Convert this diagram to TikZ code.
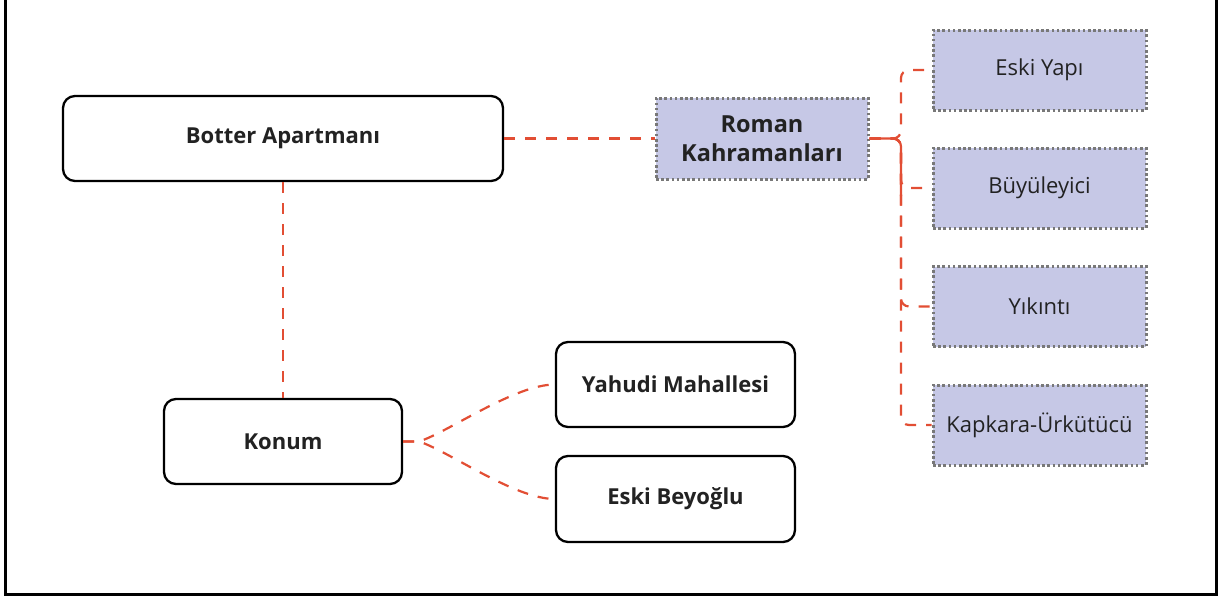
\documentclass[tikz,border=0pt]{standalone}
\usepackage{fontspec}
\setmainfont{Open Sans}
\definecolor{conred}{RGB}{226,78,52}
\definecolor{lav}{RGB}{198,200,230}
\definecolor{txt}{RGB}{34,34,34}
\definecolor{dotgray}{RGB}{120,120,120}
\tikzset{
  roundbox/.style={draw=black, line width=2.3pt, rounded corners=12pt, fill=white, align=center, text=txt, font=\fontsize{22}{30}\selectfont\bfseries, inner sep=0pt},
  lavbox/.style={draw=dotgray, line width=3pt, dash pattern=on 2.6pt off 2.6pt, fill=lav, align=center, text=txt, inner sep=0pt},
  con/.style={draw=conred, line width=2.2pt, dash pattern=on 11pt off 10pt},
  consolid/.style={draw=conred, line width=2.2pt},
}
\begin{document}
\begin{tikzpicture}[x=1pt,y=-1pt]
\useasboundingbox (0,0) rectangle (1219,598);
\draw[line width=2.2pt, black] (5.5,-2) -- (5.5,594.5) -- (1216.5,594.5) -- (1216.5,-2);

\node[roundbox, minimum width=440pt, minimum height=85pt] (bot) at (283,138.5) {Botter Apartmanı};
\node[lavbox, minimum width=212pt, minimum height=81pt, font=\fontsize{23.5}{29}\selectfont\bfseries] (rk) at (762,138.5) {Roman\\Kahramanları};
\node[lavbox, minimum width=213pt, minimum height=80pt, font=\fontsize{22}{26}\selectfont] (ey) at (1039.5,70) {Eski Yapı};
\node[lavbox, minimum width=213pt, minimum height=80pt, font=\fontsize{22}{26}\selectfont] (by) at (1039.5,188) {Büyüleyici};
\node[lavbox, minimum width=213pt, minimum height=80pt, font=\fontsize{22}{26}\selectfont] (yi) at (1039.5,306.5) {Yıkıntı};
\node[lavbox, minimum width=213pt, minimum height=80pt, font=\fontsize{22}{26}\selectfont] (kk) at (1039.5,425) {Kapkara-Ürkütücü};
\node[roundbox, minimum width=238pt, minimum height=85pt] (kon) at (283,441.5) {Konum};
\node[roundbox, minimum width=239pt, minimum height=85pt] (yah) at (675.5,384.5) {Yahudi Mahallesi};
\node[roundbox, minimum width=239pt, minimum height=86pt] (eb) at (675.5,499) {Eski Beyoğlu};

\path[con] (bot.east) -- (rk.west);
\path[con] (bot.south) -- (kon.north);

\coordinate (bus) at (901,0);
\foreach \c in {ey,by,yi,kk}{
  \path[con, rounded corners=8pt] (rk.east) -- (bus |- rk.east) |- (\c.west);
}
\path[consolid, rounded corners=8pt] (rk.east) -- (bus |- rk.east) -- ([yshift=-8pt]bus |- by.west);

\path[con] (kon.east) -- ++(16,0) .. controls +(30,-10) and +(-40,0) .. (yah.west);
\path[con] (kon.east) -- ++(16,0) .. controls +(30,10) and +(-40,0) .. (eb.west);
\end{tikzpicture}
\end{document}
